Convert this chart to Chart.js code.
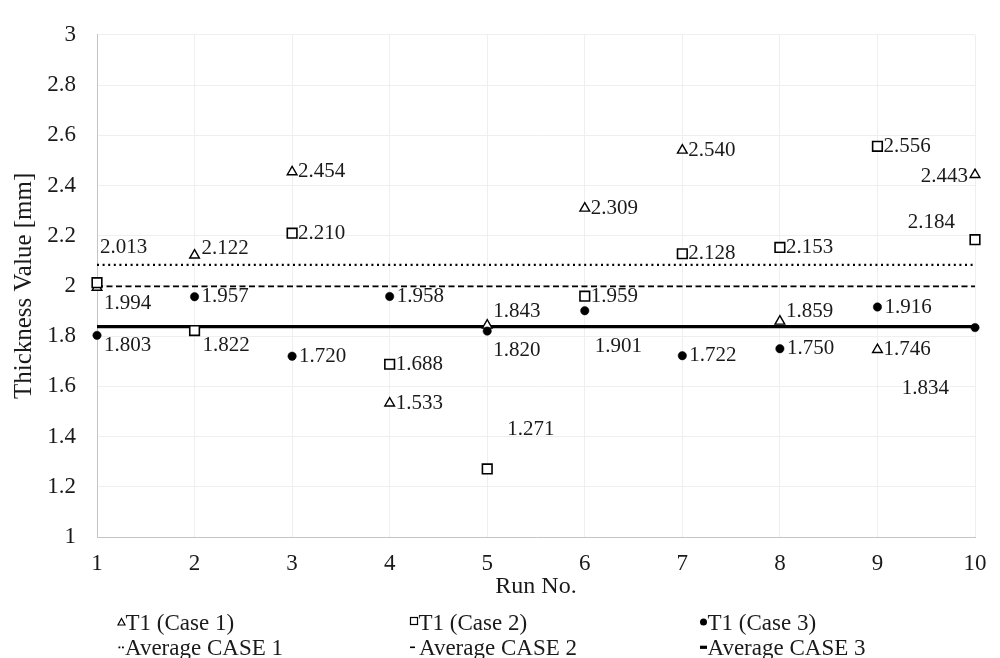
<!DOCTYPE html>
<html>
<head>
<meta charset="utf-8">
<script src="https://cdn.jsdelivr.net/npm/chart.js@4/dist/chart.umd.min.js"></script>
<style>
  html, body { margin: 0; padding: 0; background: #ffffff; }
  canvas { display: block; }
</style>
</head>
<body>
<canvas id="thickness" width="1000" height="658"></canvas>
<script>
// Run numbers on the x axis
const runs = [1, 2, 3, 4, 5, 6, 7, 8, 9, 10];

// Measured T1 thickness per run [mm]
const case1 = [1.994, 2.122, 2.454, 1.533, 1.843, 2.309, 2.540, 1.859, 1.746, 2.443];
const case2 = [2.013, 1.822, 2.210, 1.688, 1.271, 1.959, 2.128, 2.153, 2.556, 2.184];
const case3 = [1.803, 1.957, 1.720, 1.958, 1.820, 1.901, 1.722, 1.750, 1.916, 1.834];

// Average thickness of each case [mm]
const averages = [2.084, 1.998, 1.838];

// Legend texts
const pointNames = ['T1 (Case 1)', 'T1 (Case 2)', 'T1 (Case 3)'];
const averageNames = ['Average CASE 1', 'Average CASE 2', 'Average CASE 3'];

// y axis range and step
const yMin = 1, yMax = 3, yStep = 0.2;

const SERIF = "'Liberation Serif', 'Times New Roman', serif";
const INK = '#1a1a1a';

// Value label placement per point: [dx, dy, textAlign]
const labelPlacement = [
  [[7, 16, 'left'], [7, -7, 'left'], [6, 0, 'left'], [6, 0, 'left'], [6, -14, 'left'],
   [6, 0, 'left'], [6, 0, 'left'], [6, -10, 'left'], [6, 0, 'left'], [-7, 2, 'right']],
  [[3, -35, 'left'], [8, 15, 'left'], [6, 0, 'left'], [6, 0, 'left'], [20, -39, 'left'],
   [6, 0, 'left'], [6, 0, 'left'], [6, 0, 'left'], [6, 0, 'left'], [-20, -17, 'right']],
  [[7, 10, 'left'], [7, 0, 'left'], [7, 0, 'left'], [7, 0, 'left'], [6, 19, 'left'],
   [10, 36, 'left'], [7, 0, 'left'], [7, 0, 'left'], [7, 0, 'left'], [-26, 61, 'right']]
];

const pts = values => runs.map((r, i) => ({ x: r, y: values[i] }));
const flat = v => [{ x: runs[0], y: v }, { x: runs[runs.length - 1], y: v }];

const valueLabels = {
  id: 'valueLabels',
  afterDatasetsDraw(chart) {
    const ctx = chart.ctx;
    ctx.save();
    ctx.font = '21px ' + SERIF;
    ctx.fillStyle = INK;
    ctx.textBaseline = 'middle';
    [case1, case2, case3].forEach((series, s) => {
      const meta = chart.getDatasetMeta(s);
      series.forEach((v, i) => {
        const el = meta.data[i];
        const [dx, dy, align] = labelPlacement[s][i];
        ctx.textAlign = align;
        ctx.fillText(v.toFixed(3), el.x + dx, el.y + dy);
      });
    });
    ctx.restore();
  }
};

const bottomLegend = {
  id: 'bottomLegend',
  afterDraw(chart) {
    const ctx = chart.ctx;
    const cols = [118, 410, 700];
    const rows = [630, 655];
    ctx.save();
    ctx.font = '23px ' + SERIF;
    ctx.fillStyle = INK;
    ctx.textBaseline = 'alphabetic';
    ctx.textAlign = 'left';
    ctx.strokeStyle = '#000';
    ctx.lineWidth = 1.2;

    // row 1: point markers
    let x = cols[0], y = rows[0] - 8;
    ctx.beginPath();
    ctx.moveTo(x + 3.5, y - 3.5);
    ctx.lineTo(x + 7, y + 3);
    ctx.lineTo(x, y + 3);
    ctx.closePath();
    ctx.stroke();
    ctx.fillText(pointNames[0], x + 7.5, rows[0]);

    x = cols[1]; y = rows[0] - 9;
    ctx.strokeRect(x + 0.5, y - 3.5, 7, 7);
    ctx.fillText(pointNames[1], x + 8.5, rows[0]);

    x = cols[2]; y = rows[0] - 8;
    ctx.beginPath();
    ctx.arc(x + 3.5, y, 3.5, 0, Math.PI * 2);
    ctx.fillStyle = '#000';
    ctx.fill();
    ctx.fillStyle = INK;
    ctx.fillText(pointNames[2], x + 7.5, rows[0]);

    // row 2: average line swatches
    x = cols[0]; y = rows[1] - 8.5;
    ctx.fillStyle = '#000';
    ctx.fillRect(x + 0.5, y, 1.8, 1.8);
    ctx.fillRect(x + 4, y, 1.8, 1.8);
    ctx.fillStyle = INK;
    ctx.fillText(averageNames[0], x + 7, rows[1]);

    x = cols[1];
    ctx.fillStyle = '#000';
    ctx.fillRect(x, y, 5, 1.6);
    ctx.fillStyle = INK;
    ctx.fillText(averageNames[1], x + 9, rows[1]);

    x = cols[2];
    ctx.fillStyle = '#000';
    ctx.fillRect(x, y - 0.8, 7, 3.2);
    ctx.fillStyle = INK;
    ctx.fillText(averageNames[2], x + 7.5, rows[1]);
    ctx.restore();
  }
};

new Chart(document.getElementById('thickness'), {
  type: 'scatter',
  data: {
    datasets: [
      { label: pointNames[0], data: pts(case1), pointStyle: 'triangle', pointRadius: 5.6,
        backgroundColor: '#ffffff', borderColor: '#000000', borderWidth: 1.4, clip: false, order: 2 },
      { label: pointNames[1], data: pts(case2), pointStyle: 'rect', pointRadius: 6.8,
        backgroundColor: '#ffffff', borderColor: '#000000', borderWidth: 1.6, clip: false, order: 1 },
      { label: pointNames[2], data: pts(case3), pointStyle: 'circle', pointRadius: 4.2,
        backgroundColor: '#000000', borderColor: '#000000', borderWidth: 0.5, clip: false, order: 0 },
      { type: 'line', label: averageNames[0], data: flat(averages[0]), showLine: true,
        borderColor: '#000000', borderWidth: 2.2, borderDash: [2, 3.6], pointRadius: 0, order: 12 },
      { type: 'line', label: averageNames[1], data: flat(averages[1]), showLine: true,
        borderColor: '#000000', borderWidth: 1.8, borderDash: [6, 3.5], pointRadius: 0, order: 11 },
      { type: 'line', label: averageNames[2], data: flat(averages[2]), showLine: true,
        borderColor: '#000000', borderWidth: 3.4, pointRadius: 0, order: 10 }
    ]
  },
  options: {
    responsive: false,
    devicePixelRatio: 1,
    animation: false,
    events: [],
    layout: { padding: { top: 20, right: 25, left: 0, bottom: 0 } },
    plugins: { legend: { display: false }, tooltip: { enabled: false } },
    scales: {
      x: {
        type: 'linear',
        min: runs[0],
        max: runs[runs.length - 1],
        afterFit: s => { s.height = 121; },
        ticks: { stepSize: 1, padding: 13, color: INK, font: { family: SERIF, size: 23 } },
        grid: { color: '#efefef', drawTicks: false },
        border: { color: '#c4c4c4', width: 1 },
        title: { display: true, text: 'Run No.', color: INK,
                 font: { family: SERIF, size: 24 }, padding: { top: 0, bottom: 57 } }
      },
      y: {
        min: yMin,
        max: yMax,
        afterFit: s => { s.width = 97; },
        ticks: { stepSize: yStep, padding: 21, color: INK, font: { family: SERIF, size: 23 },
                 callback: v => String(Number(v.toFixed(1))) },
        grid: { color: '#efefef', drawTicks: false },
        border: { color: '#c4c4c4', width: 1 },
        title: { display: true, text: 'Thickness Value [mm]', color: INK,
                 font: { family: SERIF, size: 25 }, padding: { top: 9, bottom: 0 } }
      }
    }
  },
  plugins: [valueLabels, bottomLegend]
});
</script>
</body>
</html>
